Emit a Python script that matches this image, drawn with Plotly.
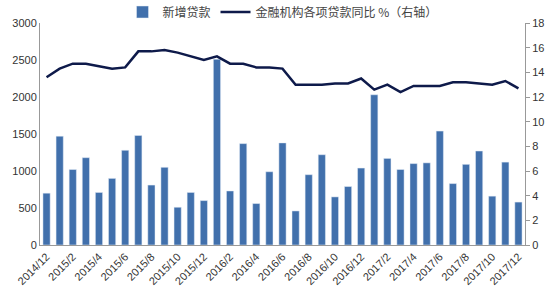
import plotly.graph_objects as go

months = []
y, m = 2014, 12
for _ in range(37):
    months.append(f"{y}/{m}")
    m += 1
    if m > 12:
        m = 1
        y += 1

loans = [700, 1470, 1020, 1180, 710, 900, 1280, 1480, 810, 1050, 510, 710, 600,
         2510, 730, 1370, 560, 990, 1380, 460, 950, 1220, 650, 790, 1040,
         2030, 1170, 1020, 1100, 1110, 1540, 830, 1090, 1270, 660, 1120, 580]
yoy = [13.6, 14.3, 14.7, 14.7, 14.5, 14.3, 14.4, 15.7, 15.7, 15.8, 15.6, 15.3, 15.0,
       15.3, 14.7, 14.7, 14.4, 14.4, 14.3, 13.0, 13.0, 13.0, 13.1, 13.1, 13.5,
       12.6, 13.0, 12.4, 12.9, 12.9, 12.9, 13.2, 13.2, 13.1, 13.0, 13.3, 12.7]
tick_labels = months[::2]

font = "Liberation Sans Narrow, Liberation Sans, Arial"
fig = go.Figure()
fig.add_trace(go.Bar(x=months, y=loans, name="新增贷款", marker_color="#4170AC",
                     width=0.55))
fig.add_trace(go.Scatter(x=months, y=yoy, name="金融机构各项贷款同比 %（右轴）",
                         yaxis="y2", mode="lines",
                         line=dict(color="#0E1A4A", width=2.5)))
fig.update_layout(
    width=550, height=300,
    margin=dict(l=40, r=25, t=23, b=55, autoexpand=False),
    paper_bgcolor="white", plot_bgcolor="white",
    font=dict(family=font, size=11, color="#333"),
    showlegend=True,
    legend=dict(orientation="h", x=0.5, xanchor="center",
                yref="container", y=0.96, yanchor="middle",
                font=dict(size=12, color="#444", family="Noto Sans CJK SC, " + font),
                itemwidth=30, tracegroupgap=0),
    xaxis=dict(type="category", tickvals=tick_labels, ticktext=tick_labels,
               tickangle=-45, showline=True, linecolor="#999", ticks="",
               showgrid=False, tickfont=dict(size=11)),
    yaxis=dict(range=[0, 3000], dtick=500, showline=True, linecolor="#999",
               showgrid=False, ticks="", zeroline=False, tickfont=dict(size=11)),
    yaxis2=dict(range=[0, 18], dtick=2, overlaying="y", side="right",
                showline=True, linecolor="#999", ticks="outside", ticklen=4,
                tickcolor="#999", showgrid=False, zeroline=False,
                tickfont=dict(size=11)),
    bargap=0.45,
)
fig.write_html("out.html")
